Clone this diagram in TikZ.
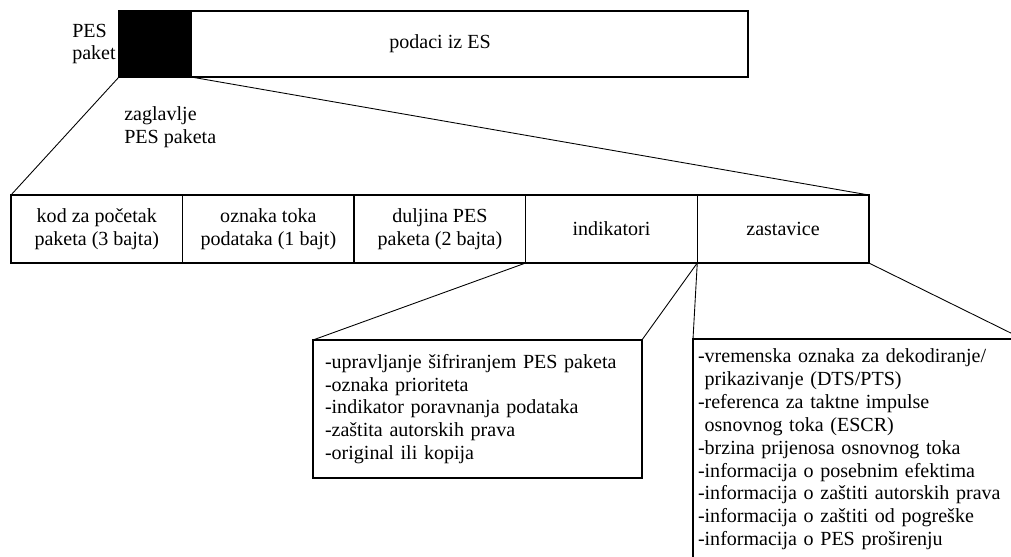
\documentclass[tikz,border=0pt]{standalone}
\usepackage{fontspec}
\setmainfont{Liberation Serif}
\usetikzlibrary{positioning}

\begin{document}
\begin{tikzpicture}[
      x=0.02cm, y=-0.02cm,
      node distance=0pt,
      font=\fontsize{11.4}{13}\selectfont,
      field/.style={rectangle, draw, line width=0.8pt, outer sep=0pt,
                    minimum width=3.432cm, minimum height=1.36cm, align=center},
      listbox/.style={rectangle, draw, line width=0.8pt, outer sep=0pt,
                      anchor=north west, align=left},
      lbl/.style={inner sep=0pt, align=left},
      link/.style={line width=0.5pt}
    ]
      \useasboundingbox (0,0) rectangle (1011,557);
      \clip (0,0) rectangle (1011,557);
      % PES paket
      \node[field, fill=black, minimum width=1.44cm, minimum height=1.32cm,
            anchor=north west] (hdr) at (119,11) {};
      \node[field, minimum width=11.14cm, minimum height=1.32cm, right=of hdr] (data) {};
      \node[lbl] (podaci) at (440,44) {podaci iz ES};
      \node[lbl, anchor=east] (pes) at (116,44) {PES\\paket};
      \node[lbl, anchor=west] (zagl) at (124,127) {zaglavlje\\PES paketa};
      % zaglavlje
      \node[field, anchor=north west] (kod) at (11,195) {kod za početak\\paketa (3 bajta)};
      \node[field, right=of kod] (tok) {oznaka toka\\podataka (1 bajt)};
      \node[field, right=of tok] (dulj) {duljina PES\\paketa (2 bajta)};
      \node[field, right=of dulj] (ind) {indikatori};
      \node[field, right=of ind] (zast) {zastavice};
      % detalji
      \node[listbox, minimum width=6.58cm, minimum height=2.76cm, text width=6.1cm,
            inner xsep=0.24cm] (indlist) at (313,340) {%
        -upravljanje šifriranjem PES paketa\\
        -oznaka prioriteta\\
        -indikator poravnanja podataka\\
        -zaštita autorskih prava\\
        -original ili kopija};
      \node[listbox, minimum width=6.6cm, text width=6.4cm, inner xsep=0.06cm,
            inner ysep=0.2cm] (zastlist) at (693,339) {%
        -vremenska oznaka za dekodiranje/\\
        \ prikazivanje (DTS/PTS)\\
        -referenca za taktne impulse\\
        \ osnovnog toka (ESCR)\\
        -brzina prijenosa osnovnog toka\\
        -informacija o posebnim efektima\\
        -informacija o zaštiti autorskih prava\\
        -informacija o zaštiti od pogreške\\
        -informacija o PES proširenju\\[1cm]};
      \draw[link] (hdr.south west) -- (kod.north west);
      \draw[link] (hdr.south east) -- (zast.north east);
      \draw[link] (ind.south west) -- (indlist.north west);
      \draw[link] (ind.south east) -- (indlist.north east);
      \draw[link] (zast.south west) -- (zastlist.north west);
      \draw[link] (zast.south east) -- (zastlist.north east);
    \end{tikzpicture}
\end{document}
